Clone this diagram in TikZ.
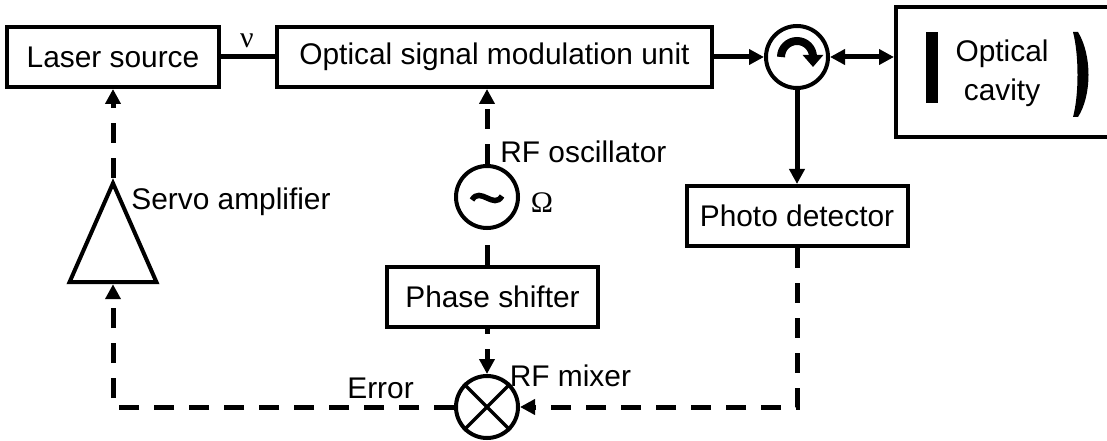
\documentclass[tikz,border=0pt]{standalone}
\usepackage{fontspec}
\setmainfont{Liberation Sans}
\newfontfamily\greekfont{Liberation Serif}
\usetikzlibrary{shapes,arrows.meta,positioning}

\tikzset{
    block/.style={rectangle, draw, line width=0.08cm, inner sep=0pt, minimum height=1.2cm},
    round/.style={circle, draw, line width=0.08cm, inner sep=0pt, minimum size=1.24cm},
    label/.style={inner sep=0pt},
    beam/.style={line width=0.1cm, -{Triangle[length=0.3cm, width=0.3cm]}},
    rfline/.style={line width=0.1cm, dash pattern=on 0.4cm off 0.3cm, -{Triangle[length=0.3cm, width=0.3cm]}},
}

\begin{document}
\begin{tikzpicture}[every node/.style={font=\fontsize{17}{20}\selectfont}]
    \useasboundingbox (0,0) rectangle (22.14,8.8);

    % Blocks
    \node[block, minimum width=4.24cm] (laser) at (2.26,7.66) {Laser source};
    \node[block, minimum width=8.7cm] (unit) at (9.89,7.66) {Optical signal modulation unit};
    \node[round] (circ) at (15.94,7.66) {};
    \node[block, minimum width=4.42cm, minimum height=2.6cm] (cavity) at (20.13,7.36) {};
    \node[block, minimum width=4.42cm] (detector) at (15.94,4.48) {Photo detector};
    \node[round] (osc) at (9.74,4.86) {};
    \node[block, minimum width=4.22cm] (phase) at (9.85,2.86) {Phase shifter};
    \node[round] (mixer) at (9.74,0.66) {};
    \node[isosceles triangle, isosceles triangle stretches, shape border rotate=90, draw, line width=0.08cm,
        inner sep=0pt, minimum width=1.74cm, minimum height=1.98cm, anchor=apex] (servo) at (2.26,5.24) {};

    % Corners of the feedback lines
    \coordinate (leftturn) at (2.26,0.66);
    \coordinate (rightturn) at (15.94,0.66);

    % Mirrors
    \node[rectangle, fill=black, inner sep=0pt, minimum width=0.24cm, minimum height=1.42cm] (mirror) at (18.64,7.45) {};
    \fill (21.56,8.16) .. controls (21.84,7.7) and (21.84,6.9) .. (21.56,6.46)
        -- (21.46,6.46) .. controls (21.58,6.9) and (21.58,7.7) .. (21.46,8.16) -- cycle;

    % Labels
    \node[align=center] (cavitytext) at (20.04,7.33) {Optical\\[2.5pt]cavity};
    \node[label, font=\fontsize{17}{20}\greekfont] (nu) at (4.94,7.98) {ν};
    \node[label, font=\fontsize{17}{20}\greekfont] (omega) at (10.84,4.74) {Ω};
    \node[label, anchor=west] (osctext) at (10.0,5.76) {RF oscillator};
    \node[label, anchor=west] (servotext) at (2.62,4.76) {Servo amplifier};
    \node[label, anchor=west] (mixertext) at (10.19,1.28) {RF mixer};
    \node[label, anchor=west] (errortext) at (6.94,1.04) {Error};

    % Symbols in the circles
    \draw[line width=0.11cm] (9.44,4.8) .. controls (9.6,5.08) and (9.88,4.6) .. (10.04,4.88);
    \draw[line width=0.16cm, -{Triangle[length=0.24cm, width=0.4cm]}] (15.62,7.66) arc[start angle=180, end angle=0, radius=0.32] -- (16.26,7.46);
    \draw[line width=0.07cm] (mixer.45) -- (mixer.225);
    \draw[line width=0.07cm] (mixer.135) -- (mixer.315);

    % Optical path
    \draw[line width=0.1cm] (laser) -- (unit);
    \draw[beam] (unit) -- (circ);
    \draw[beam, {Triangle[length=0.3cm, width=0.3cm]}-{Triangle[length=0.3cm, width=0.3cm]}] (circ) -- (cavity.west |- circ);
    \draw[beam] (circ) -- (detector);

    % RF and feedback path
    \draw[rfline] (osc) -- (osc |- unit.south);
    \draw[rfline, -, dash phase=0.4cm] (osc) -- (osc |- phase.north);
    \draw[rfline, dash phase=0.3cm] (osc |- phase.south) -- (mixer);
    \draw[rfline] (detector) -- (rightturn) -- (mixer);
    \draw[rfline] (mixer) -- (leftturn) -- (servo.lower side);
    \draw[rfline] (servo.apex) -- (laser);
\end{tikzpicture}
\end{document}
